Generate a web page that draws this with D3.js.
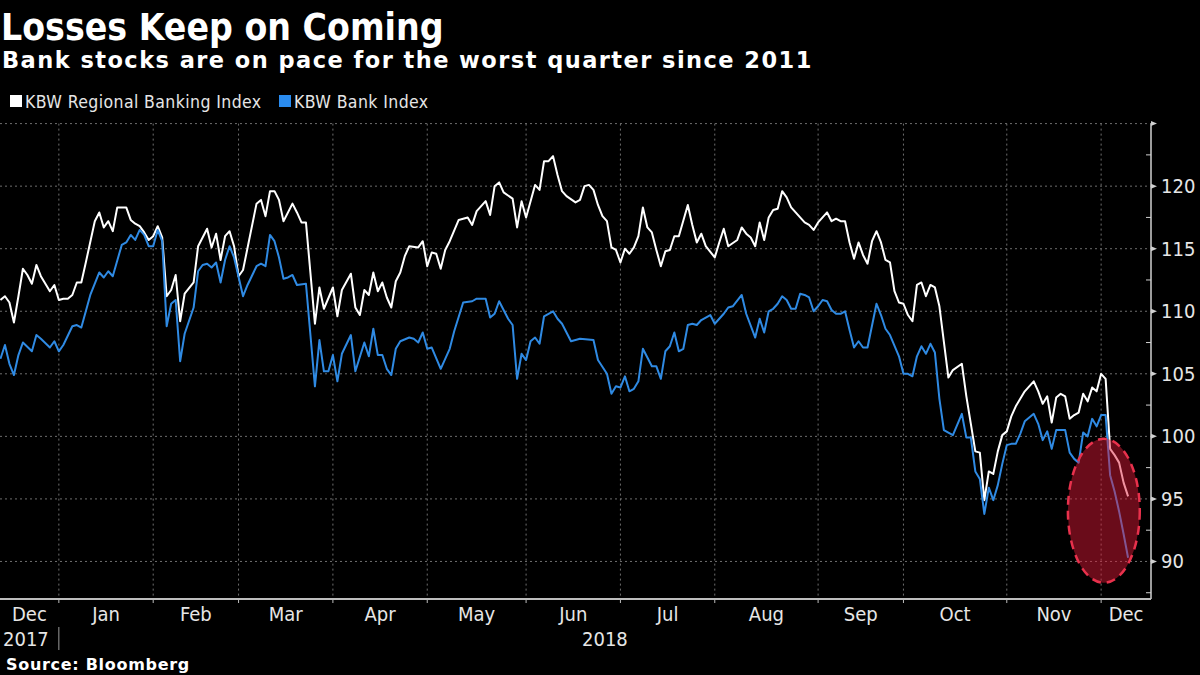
<!DOCTYPE html>
<html>
<head>
<meta charset="utf-8">
<script src="https://cdn.jsdelivr.net/npm/d3@7"></script>
<style>
  body { margin: 0; background: #000; }
  svg text { font-family: "DejaVu Sans Condensed", "DejaVu Sans", sans-serif; font-stretch: condensed; }
  svg text.wide { font-family: "DejaVu Sans", sans-serif; font-stretch: normal; }
</style>
</head>
<body>
<svg id="chart" width="1200" height="675"></svg>
<script>
// x = trading day counted from the first session of Jan 2018 (negative = Dec 2017)
var regionalIndex = [
  [-13,110.9],[-12,111.2],[-11,110.7],[-10,109.1],[-9,111.2],[-8,113.4],[-7,112.9],[-6,112.2],[-5,113.7],[-4,112.8],
  [-2,111.6],[-1,112.1],[0,110.9],[1,111.0],[2,111.0],[3,111.3],[4,112.3],[5,112.3],[6,113.9],[8,117.2],
  [9,117.9],[10,116.7],[11,117.2],[12,116.4],[13,118.3],[15,118.3],[16,117.3],[17,117.0],[18,116.8],[19,116.3],
  [20,115.7],[21,116.0],[22,116.8],[23,115.9],[24,111.2],[25,111.7],[26,112.9],[27,109.2],[28,111.4],[30,112.3],
  [31,115.2],[32,115.9],[33,116.6],[34,115.1],[35,116.2],[36,114.1],[37,116.0],[38,116.4],[39,115.2],[40,112.8],
  [41,113.3],[44,118.6],[45,118.9],[46,117.6],[47,119.6],[48,119.6],[49,118.9],[50,117.2],[52,118.6],[53,117.9],
  [54,117.1],[55,117.1],[57,109.0],[58,111.9],[59,110.2],[61,111.9],[62,109.6],[63,111.7],[65,113.0],[66,110.3],
  [67,109.7],[68,111.7],[69,111.3],[70,113.1],[71,111.6],[72,112.3],[73,111.1],[74,110.3],[75,112.4],[76,113.1],
  [77,114.4],[78,115.2],[80,115.1],[81,115.6],[82,113.6],[83,114.7],[84,114.6],[85,113.4],[86,114.9],[87,115.6],
  [89,117.3],[91,117.5],[92,116.9],[93,118.0],[95,118.8],[96,117.7],[97,120.0],[98,120.3],[99,119.5],[101,119.0],
  [102,116.7],[103,118.8],[104,117.5],[106,120.1],[107,119.7],[108,122.0],[109,122.0],[110,122.4],[111,120.9],[112,119.6],
  [113,119.2],[115,118.7],[116,118.9],[117,120.0],[118,120.1],[119,119.7],[120,118.5],[121,117.6],[122,117.2],[123,115.1],
  [124,114.9],[125,113.9],[126,115.0],[127,114.6],[128,115.1],[129,116.0],[130,118.3],[131,116.7],[132,116.3],[133,114.9],
  [134,113.6],[135,114.8],[136,114.9],[137,116.0],[138,116.0],[140,118.5],[141,116.9],[142,115.5],[143,116.2],[144,115.2],
  [146,114.3],[147,115.5],[148,116.6],[149,115.2],[151,115.7],[152,116.7],[153,116.2],[154,115.9],[155,115.2],[156,117.1],
  [157,115.7],[158,117.5],[159,118.1],[160,118.2],[161,119.6],[162,119.1],[163,118.3],[164,117.9],[165,117.5],[166,117.1],
  [167,116.9],[168,116.5],[169,117.1],[170,117.5],[171,117.9],[172,117.2],[173,117.4],[174,117.2],[175,117.2],[176,115.5],
  [177,114.2],[178,115.5],[179,114.5],[180,113.8],[181,115.6],[182,116.4],[183,115.5],[184,114.1],[185,113.9],[186,111.6],
  [187,110.7],[188,110.6],[189,109.7],[190,109.2],[191,112.1],[192,112.3],[193,111.2],[194,112.1],[195,111.9],[196,110.4],
  [198,104.7],[199,105.3],[201,105.8],[202,103.2],[203,101.0],[204,98.8],[205,98.7],[206,94.9],[207,97.2],[208,97.0],
  [209,98.8],[210,100.1],[211,100.4],[212,101.6],[213,102.4],[214,103.0],[215,103.6],[217,104.4],[218,103.6],[219,102.6],
  [220,103.2],[221,101.1],[222,103.1],[223,103.4],[224,103.2],[225,101.4],[226,101.7],[227,101.9],[228,103.4],[229,102.8],
  [230,103.9],[231,103.6],[232,105.0],[233,104.6],[234,99.0],[235,98.5],[236,97.9],[237,96.3],[238,95.2]
];

var bankIndex = [
  [-13,106.2],[-12,107.3],[-11,105.8],[-10,104.9],[-9,106.5],[-8,107.5],[-6,106.8],[-5,108.1],[-4,107.8],[-2,107.1],
  [-1,107.6],[0,106.8],[1,107.3],[3,108.8],[4,108.9],[5,108.7],[7,111.3],[9,113.1],[10,112.7],[11,113.2],
  [12,112.8],[14,115.3],[15,115.5],[16,116.1],[17,115.7],[18,116.5],[19,116.1],[20,115.2],[21,115.2],[22,116.5],
  [23,115.6],[24,108.8],[25,110.6],[26,110.9],[27,106.0],[28,108.2],[30,110.3],[31,113.2],[32,113.7],[33,113.8],
  [34,113.5],[35,113.9],[36,112.3],[37,114.1],[38,115.2],[39,114.3],[41,111.2],[42,112.1],[44,113.6],[45,113.8],
  [46,113.6],[47,116.1],[48,115.6],[49,114.3],[50,112.6],[51,112.7],[52,112.9],[53,112.1],[55,112.2],[57,104.0],
  [58,107.7],[59,105.2],[60,105.2],[61,106.5],[62,104.4],[63,106.6],[65,108.1],[66,105.2],[68,107.5],[69,106.4],
  [70,108.6],[71,106.5],[72,106.5],[73,105.4],[74,104.9],[75,107.0],[76,107.6],[78,107.9],[79,107.8],[80,107.5],
  [81,108.3],[82,107.0],[83,107.1],[85,105.4],[87,107.0],[88,108.4],[90,110.7],[92,110.8],[93,111.0],[95,111.0],
  [96,109.5],[97,109.8],[98,110.8],[100,109.4],[101,108.9],[102,104.6],[103,106.6],[104,106.1],[105,107.6],[106,107.9],
  [107,107.4],[108,109.6],[110,110.0],[111,109.4],[112,109.0],[114,107.6],[116,107.8],[119,107.7],[120,106.1],[122,105.0],
  [123,103.4],[124,104.0],[125,103.9],[126,104.8],[127,103.6],[128,103.8],[129,104.4],[130,107.0],[132,105.6],[133,105.6],
  [134,104.6],[135,106.8],[136,107.2],[137,108.3],[138,106.8],[139,107.0],[140,108.9],[141,109.0],[142,108.9],[143,109.3],
  [145,109.7],[146,109.0],[148,109.8],[149,110.3],[150,110.4],[152,111.3],[153,109.8],[155,107.9],[156,109.4],[157,108.3],
  [158,110.0],[159,110.2],[160,110.6],[161,111.2],[162,110.9],[163,110.2],[164,110.2],[165,111.4],[166,111.3],[167,111.1],
  [168,110.0],[169,110.4],[170,110.9],[171,110.8],[172,110.1],[173,109.8],[174,109.8],[175,110.0],[176,108.5],[177,107.1],
  [178,107.6],[179,107.1],[180,107.1],[182,110.6],[183,109.7],[184,108.6],[185,108.1],[187,106.4],[188,105.0],[189,105.0],
  [190,104.8],[191,106.4],[192,107.2],[193,106.6],[194,107.4],[195,106.7],[196,103.0],[197,100.5],[198,100.3],[199,100.1],
  [201,101.8],[202,99.9],[203,99.9],[204,97.2],[205,96.6],[206,93.8],[207,95.9],[208,94.9],[209,96.1],[210,97.8],
  [211,99.3],[212,99.4],[213,99.4],[214,100.2],[215,101.2],[217,101.8],[218,101.0],[219,99.7],[220,100.4],[221,99.0],
  [222,100.5],[224,100.5],[225,98.7],[226,98.2],[227,97.9],[228,100.3],[229,100.0],[230,101.4],[231,100.8],[232,101.7],
  [233,101.7],[234,96.9],[235,95.6],[236,94.0],[237,92.2],[238,90.3]
];

var seriesNames = ["KBW Regional Banking Index", "KBW Bank Index"];
var monthLabels = ["Jan","Feb","Mar","Apr","May","Jun","Jul","Aug","Sep","Oct","Nov","Dec"];
var monthStarts = [0, 21, 40, 61, 82, 104, 125, 146, 169, 188, 211, 232];
var firstMonthLabel = "Dec";
var yearLabels = ["2017", "2018"];
var yTicks = [90, 95, 100, 105, 110, 115, 120, 125];
var yMinorTicks = [87.5, 92.5, 97.5, 102.5, 107.5, 112.5, 117.5, 122.5];
var dayRange = [-13.1, 243.1];
var valueRange = [87, 125];
// circled drop at the end of the series (centre and half-extents in data units)
var highlight = {day: 232.6, value: 94.05, dayRadius: 8, valueRadius: 5.75};

var svg = d3.select("#chart");
var plot = {left: 0, right: 1151, top: 123.6, bottom: 599};

var x = d3.scaleLinear().domain(dayRange).range([plot.left, plot.right]);
var y = d3.scaleLinear().domain(valueRange).range([plot.bottom, plot.top]);

svg.append("rect").attr("width", 1200).attr("height", 675).attr("fill", "#000");

//Title, subtitle, legend
svg.append("text")
    .attr("x", 1).attr("y", 40)
    .attr("fill", "#fff")
    .style("font-size", "37px").style("font-weight", "bold")
    .text("Losses Keep on Coming");
svg.append("text")
    .attr("class", "wide")
    .attr("x", 2).attr("y", 68)
    .attr("fill", "#fff")
    .style("font-size", "22.5px").style("font-weight", "bold")
    .style("letter-spacing", "1.45px")
    .text("Bank stocks are on pace for the worst quarter since 2011");

var legendColors = ["#ffffff", "#2a8cf0"];
var legendX = [10, 279];
var legend = svg.append("g").attr("class", "legend");
seriesNames.forEach(function(name, i) {
    legend.append("rect")
        .attr("x", legendX[i]).attr("y", 95)
        .attr("width", 12).attr("height", 12)
        .attr("fill", legendColors[i]);
    legend.append("text")
        .attr("x", legendX[i] + 15).attr("y", 107.5)
        .attr("fill", "#e6e6e6")
        .style("font-size", "17.5px")
        .style("letter-spacing", "0.4px")
        .text(name);
});

//Grid lines
var grid = svg.append("g").attr("class", "grid")
    .attr("stroke", "#6e6e6e").attr("stroke-width", 1).attr("stroke-dasharray", "2,3");
grid.selectAll(".h").data(yTicks).enter().append("line")
    .attr("x1", plot.left).attr("x2", plot.right)
    .attr("y1", function(d) { return y(d); })
    .attr("y2", function(d) { return y(d); });
grid.selectAll(".v").data(monthStarts).enter().append("line")
    .attr("x1", function(d) { return x(d); })
    .attr("x2", function(d) { return x(d); })
    .attr("y1", y(125)).attr("y2", plot.bottom);

//Series lines
var line = d3.line()
    .x(function(d) { return x(d[0]); })
    .y(function(d) { return y(d[1]); });

svg.append("path")
    .datum(regionalIndex)
    .attr("d", line)
    .attr("fill", "none")
    .attr("stroke", "#ffffff")
    .attr("stroke-width", 2)
    .attr("stroke-linejoin", "round");
svg.append("path")
    .datum(bankIndex)
    .attr("d", line)
    .attr("fill", "none")
    .attr("stroke", "#2f8ae3")
    .attr("stroke-width", 2)
    .attr("stroke-linejoin", "round");

//Highlight ellipse over the last week
svg.append("ellipse")
    .attr("cx", x(highlight.day))
    .attr("cy", y(highlight.value))
    .attr("rx", x(highlight.day + highlight.dayRadius) - x(highlight.day))
    .attr("ry", y(highlight.value) - y(highlight.value + highlight.valueRadius))
    .attr("fill", "rgba(225,25,55,0.47)")
    .attr("stroke", "#e8314c")
    .attr("stroke-width", 2.5)
    .attr("stroke-dasharray", "9,6");

//Right axis
var axisColor = "#d0d0d0";
var rAxis = svg.append("g").attr("class", "y-axis");
rAxis.append("line")
    .attr("x1", plot.right).attr("x2", plot.right)
    .attr("y1", y(125)).attr("y2", plot.bottom)
    .attr("stroke", axisColor).attr("stroke-width", 1.5);
rAxis.selectAll(".major").data(yTicks).enter().append("path")
    .attr("d", function(d) {
        var ty = y(d);
        return "M" + plot.right + "," + (ty - 2.5) + "L" + (plot.right + 6) + "," + ty + "L" + plot.right + "," + (ty + 2.5) + "Z";
    })
    .attr("fill", axisColor);
rAxis.selectAll(".minor").data(yMinorTicks).enter().append("line")
    .attr("x1", plot.right - 5).attr("x2", plot.right)
    .attr("y1", function(d) { return y(d); })
    .attr("y2", function(d) { return y(d); })
    .attr("stroke", axisColor).attr("stroke-width", 1);
rAxis.selectAll("text").data(yTicks.filter(function(d) { return d < valueRange[1]; })).enter().append("text")
    .attr("x", plot.right + 10)
    .attr("y", function(d) { return y(d) + 7; })
    .attr("fill", "#e6e6e6")
    .style("font-size", "20px")
    .text(function(d) { return d; });

//Bottom axis
var bAxis = svg.append("g").attr("class", "x-axis");
bAxis.append("line")
    .attr("x1", plot.left).attr("x2", plot.right)
    .attr("y1", plot.bottom).attr("y2", plot.bottom)
    .attr("stroke", "#bdbdbd").attr("stroke-width", 2);
bAxis.selectAll(".tick").data(monthStarts).enter().append("line")
    .attr("x1", function(d) { return x(d); })
    .attr("x2", function(d) { return x(d); })
    .attr("y1", plot.bottom).attr("y2", plot.bottom + 4)
    .attr("stroke", "#bdbdbd").attr("stroke-width", 1);

//month labels sit in the middle of each month span
var bounds = [dayRange[0]].concat(monthStarts).concat([dayRange[1]]);
var labels = [firstMonthLabel].concat(monthLabels);
bAxis.selectAll(".month").data(labels).enter().append("text")
    .attr("x", function(d, i) { return (x(bounds[i]) + x(bounds[i + 1])) / 2; })
    .attr("y", 621)
    .attr("text-anchor", "middle")
    .attr("fill", "#e6e6e6")
    .style("font-size", "20px")
    .text(function(d) { return d; });

bAxis.append("text")
    .attr("x", 3).attr("y", 646)
    .attr("fill", "#e6e6e6")
    .style("font-size", "20px")
    .text(yearLabels[0]);
bAxis.append("text")
    .attr("x", (x(monthStarts[0]) + plot.right) / 2).attr("y", 646)
    .attr("text-anchor", "middle")
    .attr("fill", "#e6e6e6")
    .style("font-size", "20px")
    .text(yearLabels[1]);
bAxis.append("line")
    .attr("x1", x(monthStarts[0])).attr("x2", x(monthStarts[0]))
    .attr("y1", 627).attr("y2", 650)
    .attr("stroke", "#9a9a9a").attr("stroke-width", 1);

svg.append("text")
    .attr("class", "wide")
    .attr("x", 6).attr("y", 670)
    .attr("fill", "#fff")
    .style("font-size", "16px").style("font-weight", "bold")
    .style("letter-spacing", "0.7px")
    .text("Source: Bloomberg");
</script>
</body>
</html>
